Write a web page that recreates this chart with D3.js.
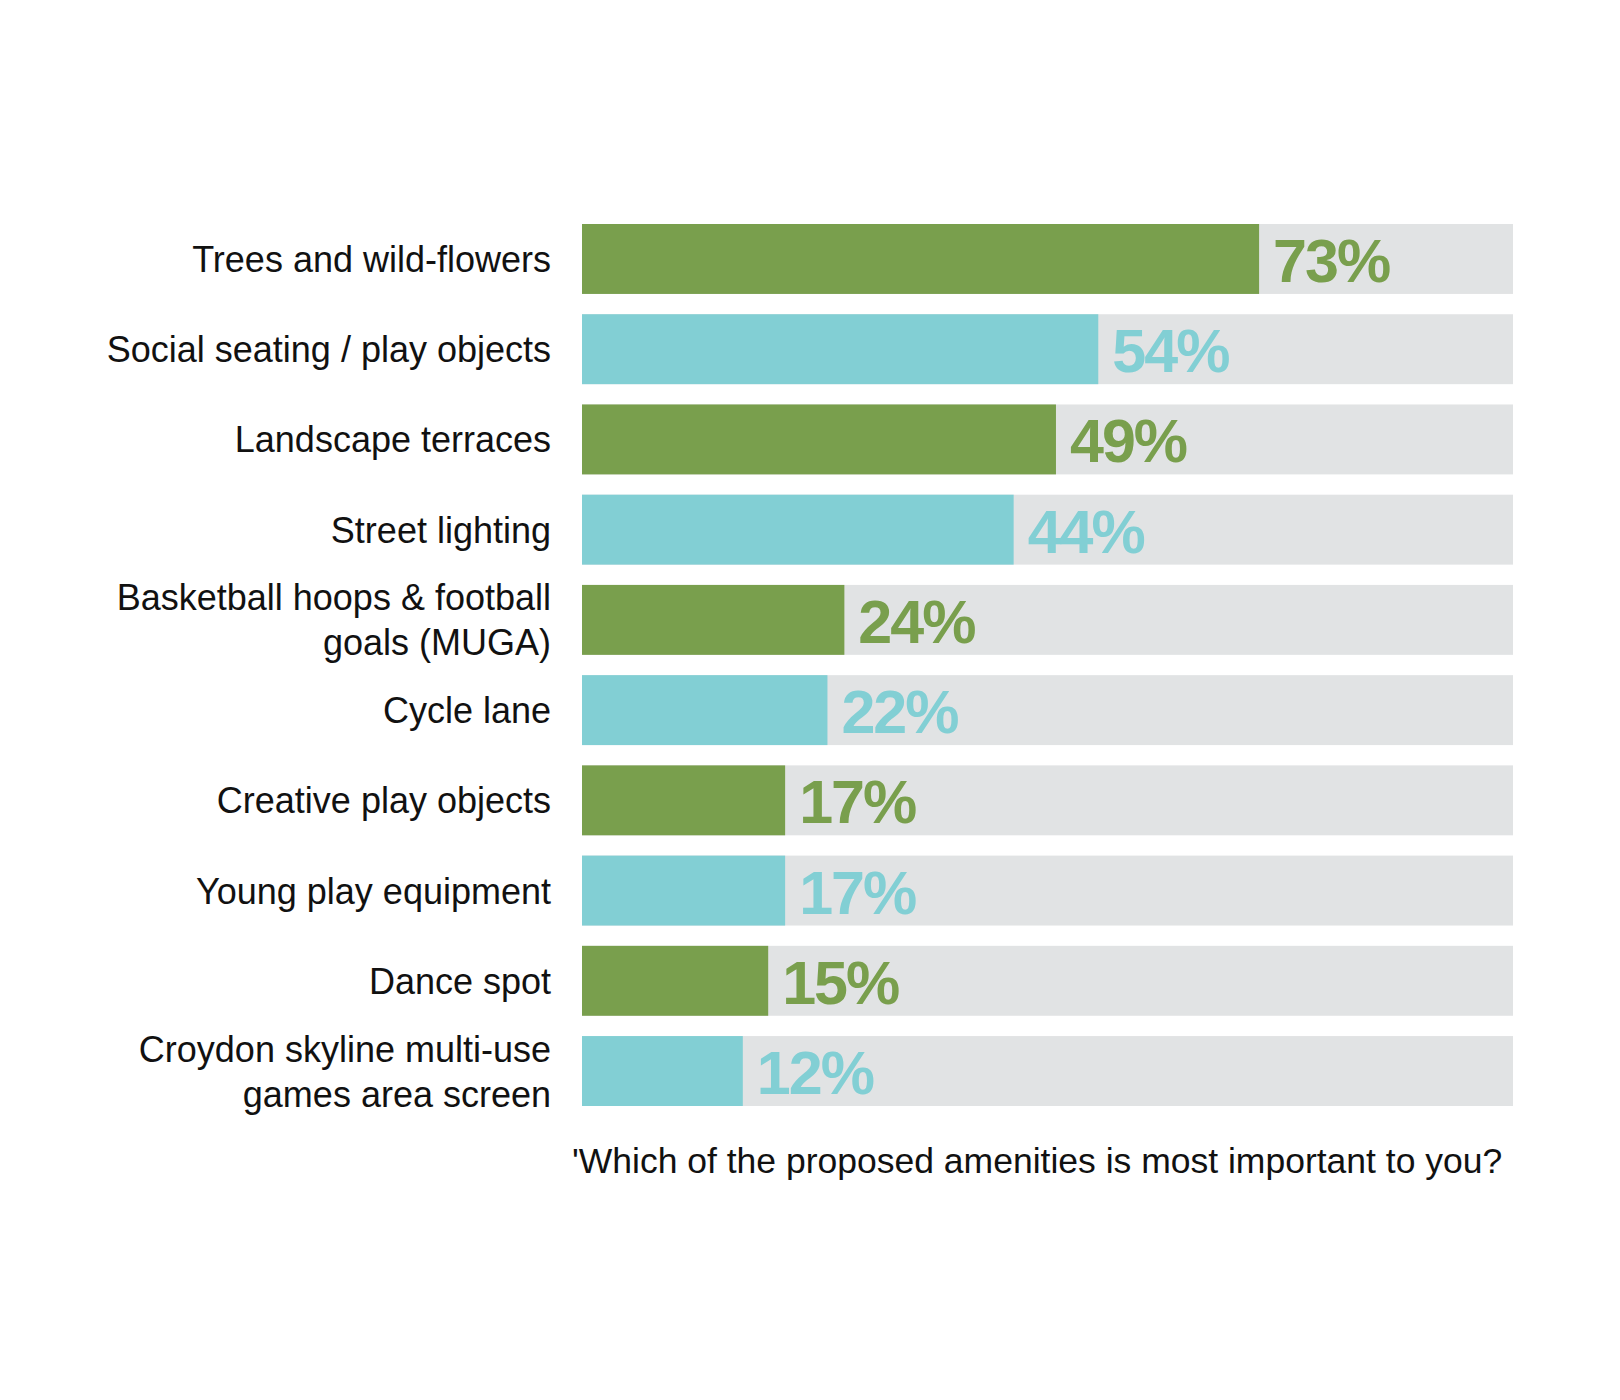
<!DOCTYPE html>
<html>
<head>
<meta charset="utf-8">
<script src="https://cdn.jsdelivr.net/npm/d3@7"></script>
<style>
  body { margin: 0; background: #fff; }
  svg { display: block; }
</style>
</head>
<body>
<svg width="1620" height="1400"></svg>
<script>
var categories = [
    ["Trees and wild-flowers"],
    ["Social seating / play objects"],
    ["Landscape terraces"],
    ["Street lighting"],
    ["Basketball hoops & football", "goals (MUGA)"],
    ["Cycle lane"],
    ["Creative play objects"],
    ["Young play equipment"],
    ["Dance spot"],
    ["Croydon skyline multi-use", "games area screen"]
];
var values = [73, 54, 49, 44, 24, 22, 17, 17, 15, 12];
var question = "'Which of the proposed amenities is most important to you?";

var svg = d3.select("svg");

const green = "#799f4d";
const cyan = "#82cfd4";
const track = "#e1e3e4";

const chartLeft = 582;
const chartRight = 1513;
const chartTop = 224;
const chartBottom = 1106;

// bars in the source are drawn with an offset, not from a true zero
var x = d3.scaleLinear().domain([-7, 103]).range([chartLeft, chartRight]);

var y = d3.scaleBand()
    .domain(d3.range(values.length))
    .range([chartTop, chartBottom])
    .paddingInner(0.225)
    .paddingOuter(0);

var color = function (i) {
    return i % 2 === 0 ? green : cyan;
};

//grey background tracks
svg.selectAll("rect.track")
    .data(values)
    .enter()
    .append("rect")
    .attr("class", "track")
    .attr("x", x.range()[0])
    .attr("y", function (d, i) { return y(i); })
    .attr("width", x.range()[1] - x.range()[0])
    .attr("height", y.bandwidth())
    .style("fill", track);

//value bars
svg.selectAll("rect.bar")
    .data(values)
    .enter()
    .append("rect")
    .attr("class", "bar")
    .attr("x", x.range()[0])
    .attr("y", function (d, i) { return y(i); })
    .attr("width", function (d) { return x(d) - x.range()[0]; })
    .attr("height", y.bandwidth())
    .style("fill", function (d, i) { return color(i); });

//percentage labels
svg.selectAll("text.value")
    .data(values)
    .enter()
    .append("text")
    .attr("class", "value")
    .attr("x", function (d) { return x(d) + 14; })
    .attr("y", function (d, i) { return y(i) + y.bandwidth() / 2 + 23; })
    .style("font-family", "'Liberation Sans', Arial, sans-serif")
    .style("font-weight", "bold")
    .style("font-size", "61px")
    .style("letter-spacing", "-2px")
    .style("fill", function (d, i) { return color(i); })
    .text(function (d) { return d + "%"; });

//category labels, one or two lines
var label = svg.selectAll("text.cat")
    .data(categories)
    .enter()
    .append("text")
    .attr("class", "cat")
    .attr("text-anchor", "end")
    .style("font-family", "'Liberation Sans', Arial, sans-serif")
    .style("font-size", "36px")
    .style("fill", "#111");

label.each(function (lines, i) {
    var mid = y(i) + y.bandwidth() / 2;
    var first = lines.length > 1 ? mid - 9.5 : mid + 13;
    d3.select(this)
        .selectAll("tspan")
        .data(lines)
        .enter()
        .append("tspan")
        .attr("x", 551)
        .attr("y", function (d, j) { return first + j * 45; })
        .text(function (d) { return d; });
});

//question under the chart
svg.append("text")
    .attr("x", 572)
    .attr("y", 1173)
    .style("font-family", "'Liberation Sans', Arial, sans-serif")
    .style("font-size", "35.5px")
    .style("fill", "#111")
    .text(question);
</script>
</body>
</html>
